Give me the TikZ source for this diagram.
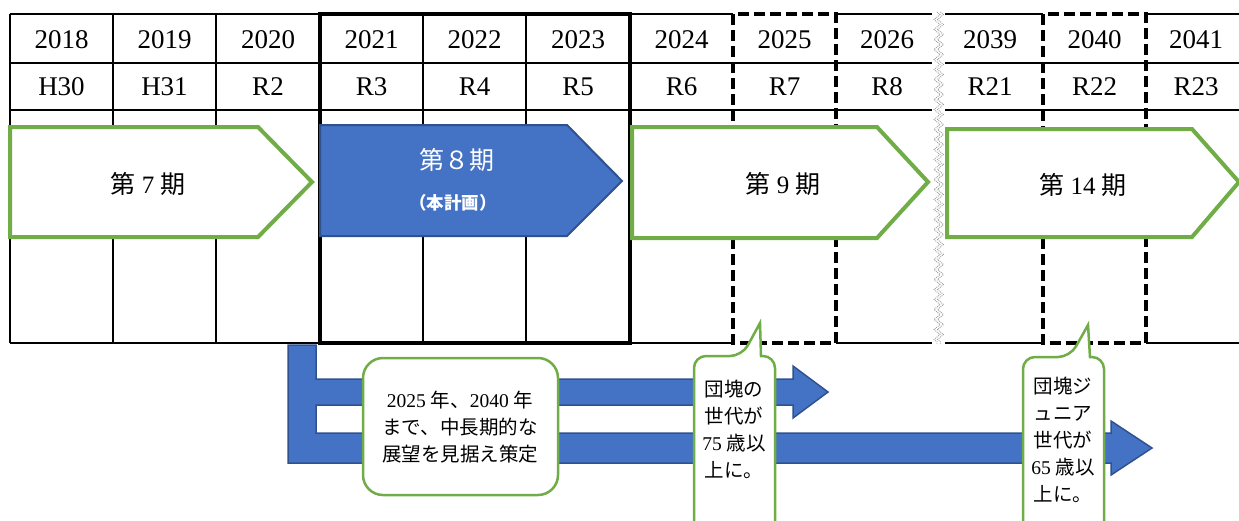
\documentclass[tikz,border=0pt]{standalone}
\usepackage{fontspec}
\setmainfont{Liberation Serif}
\newfontfamily\jpfont{Noto Sans CJK JP}
\newcommand\jpn[1]{{\jpfont #1}}
\usetikzlibrary{decorations.pathmorphing}
\definecolor{grn}{HTML}{70AD47}
\definecolor{blu}{HTML}{4472C4}
\definecolor{dblu}{HTML}{2F528F}
\begin{document}
\begin{tikzpicture}[x=1pt,y=-1pt,
  gridline/.style={line width=2pt,black},
  thickbox/.style={line width=3.5pt,black},
  dashbox/.style={line width=4pt,black,dash pattern=on 11pt off 5pt},
  yr/.style={inner sep=0pt,font=\fontsize{27}{30}\selectfont},
  period/.style={fill=white,draw=grn,line width=4pt,line join=miter},
  bluearrow/.style={fill=blu,draw=dblu,line width=2pt,line join=miter},
  ptitle/.style={inner sep=0pt,font=\fontsize{25}{30}\selectfont},
  callout/.style={fill=white,draw=grn,line width=2.5pt},
  breakline/.style={gray!75,line width=0.9pt,densely dotted,decorate,decoration={zigzag,segment length=10pt,amplitude=3pt}},
  ctext/.style={inner sep=0pt,align=center,font=\fontsize{19.5}{27}\selectfont}]
\useasboundingbox (0,0) rectangle (1239,520);
\clip (0,0) rectangle (1239,520);
% horizontal lines
\draw[gridline] (10,63) -- (1239,63) (10,110) -- (1239,110);
\draw[gridline] (10,14) -- (733,14) (836,14) -- (1043,14) (1146,14) -- (1239,14);
\draw[gridline] (10,343) -- (733,343) (836,343) -- (1043,343) (1146,343) -- (1239,343);
% vertical lines
\foreach \x in {10,113,216,423,526}{\draw[gridline] (\x,14) -- (\x,343);}
% highlighted boxes
\draw[thickbox] (320,14) rectangle (630,343);
\draw[dashbox] (733,14) rectangle (836,343);
\draw[dashbox] (1043,14) rectangle (1146,343);
% break band
\fill[white] (932,5) rectangle (945,350);
\draw[breakline] (937,12) -- (937,345);
\draw[breakline] (940.5,12) -- (940.5,345);
% header texts
\foreach \x/\t/\e [count=\i] in {61.5/2018/H30,164.5/2019/H31,268/2020/R2,371.5/2021/R3,474.5/2022/R4,578/2023/R5,681.5/2024/R6,784.5/2025/R7,887/2026/R8,990/2039/R21,1094.5/2040/R22,1196/2041/R23}{
  \node[yr] (year\i) at (\x,40) {\t};
  \node[yr] (era\i) at (\x,87) {\e};
}
% period arrows
\draw[period] (10,127) -- (258,127) -- (312,182) -- (258,237) -- (10,237) -- cycle;
\node[ptitle] (p7) at (148,184) {\jpn{第}~7~\jpn{期}};
\draw[bluearrow] (320,125) -- (567,125) -- (622,181) -- (567,236) -- (320,236) -- cycle;
\node[ptitle,text=white] (p8) at (457,160) {\jpn{第８期}};
\node[inner sep=0pt,text=white,font=\fontsize{17.5}{20}\selectfont\jpfont\bfseries] (p8s) at (453,203) {（本計画）};
\draw[period] (632,127) -- (877,127) -- (928,182) -- (877,238) -- (632,238) -- cycle;
\node[ptitle] (p9) at (783,184) {\jpn{第}~9~\jpn{期}};
\draw[period] (947,129) -- (1192,129) -- (1239,182) -- (1192,237) -- (947,237) -- cycle;
\node[ptitle] (p14) at (1083,185) {\jpn{第}~14~\jpn{期}};
% blue timeline arrows
\draw[bluearrow,line width=1.5pt] (316,379) -- (793,379) -- (793,366) -- (828,392) -- (793,418) -- (793,405) -- (316,405)
  -- (316,433) -- (1111,433) -- (1111,421) -- (1152,448) -- (1111,475) -- (1111,463) -- (288,463) -- (288,345) -- (316,345) -- cycle;
% callout 1
\draw[callout,rounded corners=20pt] (363,358) rectangle (558,495);
\node[ctext] (c1) at (460,427) {2025 \jpn{年、}2040 \jpn{年}\\ \jpn{まで、中長期的な}\\ \jpn{展望を見据え策定}};
% callout 2
\draw[callout] (694,540) [rounded corners=12pt] -- (694,356) -- (742,356) [sharp corners] -- (760,323) -- (761,356) [rounded corners=12pt] -- (775,356) -- (775,540);
\node[ctext] (c2) at (734,429) {\jpn{団塊の}\\ \jpn{世代が}\\ 75 \jpn{歳以}\\ \jpn{上に。}};
% callout 3
\draw[callout] (1023,540) [rounded corners=12pt] -- (1023,357) -- (1070,357) [sharp corners] -- (1088,325) -- (1090,357) [rounded corners=12pt] -- (1104,357) -- (1104,540);
\node[ctext] (c3) at (1063,440) {\jpn{団塊ジ}\\ \jpn{ュニア}\\ \jpn{世代が}\\ 65 \jpn{歳以}\\ \jpn{上に。}};
\end{tikzpicture}
\end{document}
